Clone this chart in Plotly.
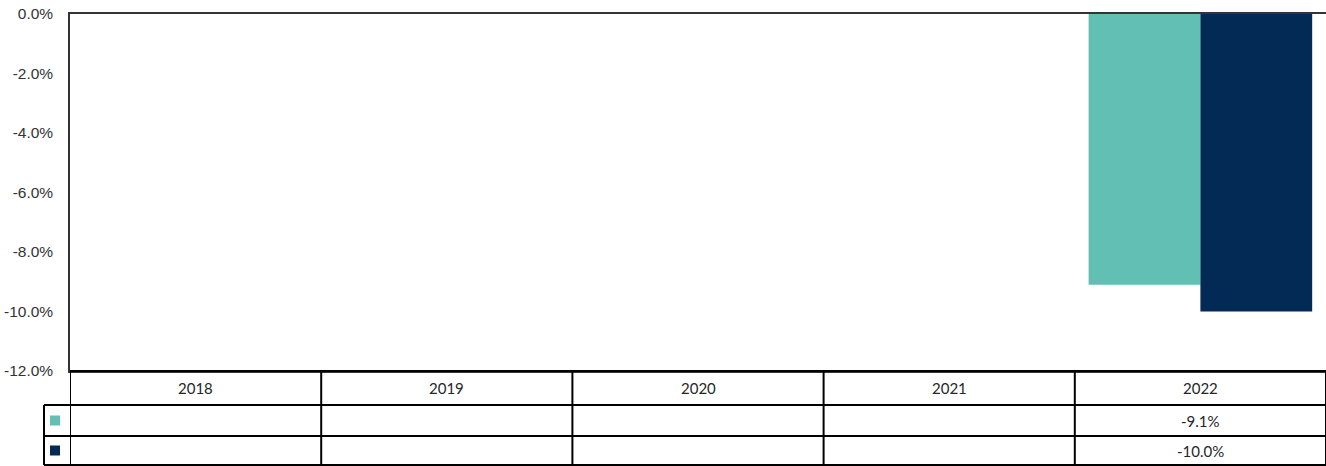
import plotly.graph_objects as go

# ---- data ----
years = ["2018", "2019", "2020", "2021", "2022"]
series_a = [None, None, None, None, -9.1]
series_b = [None, None, None, None, -10.0]
series_names = ["Series A", "Series B"]
colors = ["#62BFB4", "#032A55"]
y_ticks = [0, -2, -4, -6, -8, -10, -12]

fig = go.Figure()
for name, vals, col in zip(series_names, [series_a, series_b], colors):
    fig.add_trace(go.Bar(x=years, y=vals, name=name, marker=dict(color=col, line=dict(width=0))))

W, H = 1326, 466
ml, mr, mt, mb = 70, 0, 14, 95
plot_h = H - mt - mb
plot_w = W - ml - mr

def py(pix):  # pixel y -> paper y
    return (H - mb - pix) / plot_h

def px(pix):
    return (pix - ml) / plot_w

row_y = [371, 405, 436, 465]
line_style = dict(color="black", width=2)
shapes = []
# horizontal table lines
shapes.append(dict(type="line", xref="paper", yref="paper", x0=0, x1=1, y0=py(row_y[0]), y1=py(row_y[0]), line=line_style))
for r in row_y[1:]:
    shapes.append(dict(type="line", xref="paper", yref="paper", x0=px(44), x1=1, y0=py(r), y1=py(r), line=line_style))
# vertical table lines at category boundaries
n = len(years)
for i in range(n + 1):
    shapes.append(dict(type="line", xref="x", yref="paper", x0=i - 0.5, x1=i - 0.5,
                       y0=py(row_y[0]), y1=py(row_y[3]), line=line_style))
# left legend key column
shapes.append(dict(type="line", xref="paper", yref="paper", x0=px(44), x1=px(44),
                   y0=py(row_y[1]), y1=py(row_y[3]), line=line_style))
# legend key squares
for k, col in enumerate(colors):
    yc = (row_y[1 + k] + row_y[2 + k]) / 2
    shapes.append(dict(type="rect", xref="paper", yref="paper", x0=px(50), x1=px(60),
                       y0=py(yc - 5), y1=py(yc + 5), fillcolor=col, line=dict(width=0)))

annotations = []
tfont = dict(family="Lato, Noto Sans, sans-serif", size=15, color="#262626")
for i, yr in enumerate(years):
    annotations.append(dict(x=i, xref="x", y=py((row_y[0] + row_y[1]) / 2), yref="paper",
                            text=yr, showarrow=False, font=tfont, xanchor="center", yanchor="middle"))
for k, vals in enumerate([series_a, series_b]):
    yc = (row_y[1 + k] + row_y[2 + k]) / 2
    for i, v in enumerate(vals):
        if v is not None:
            annotations.append(dict(x=i, xref="x", y=py(yc), yref="paper",
                                    text=f"{v:.1f}%", showarrow=False, font=tfont,
                                    xanchor="center", yanchor="middle"))

fig.update_layout(
    width=W, height=H,
    margin=dict(l=ml, r=mr, t=mt, b=mb),
    paper_bgcolor="white", plot_bgcolor="white",
    barmode="group", bargap=0.11, bargroupgap=0,
    showlegend=False,
    shapes=shapes, annotations=annotations,
    font=dict(family="Liberation Sans, Arial, sans-serif", size=15.5, color="#333"),
)
fig.update_xaxes(type="category", range=[-0.5, n - 0.5], showticklabels=False, showgrid=False,
                 zeroline=False, showline=True, linecolor="#333", linewidth=1.5, mirror=True, ticks="")
fig.update_yaxes(range=[-12, 0], tickvals=y_ticks, ticktext=[f"{t:.1f}%" for t in y_ticks],
                 showgrid=False, zeroline=False, showline=True, linecolor="#333", linewidth=1.5,
                 ticks="", ticklabelstandoff=12)

fig.write_html("out.html", config={"displayModeBar": False},
               post_script="document.body.style.margin='0';")
